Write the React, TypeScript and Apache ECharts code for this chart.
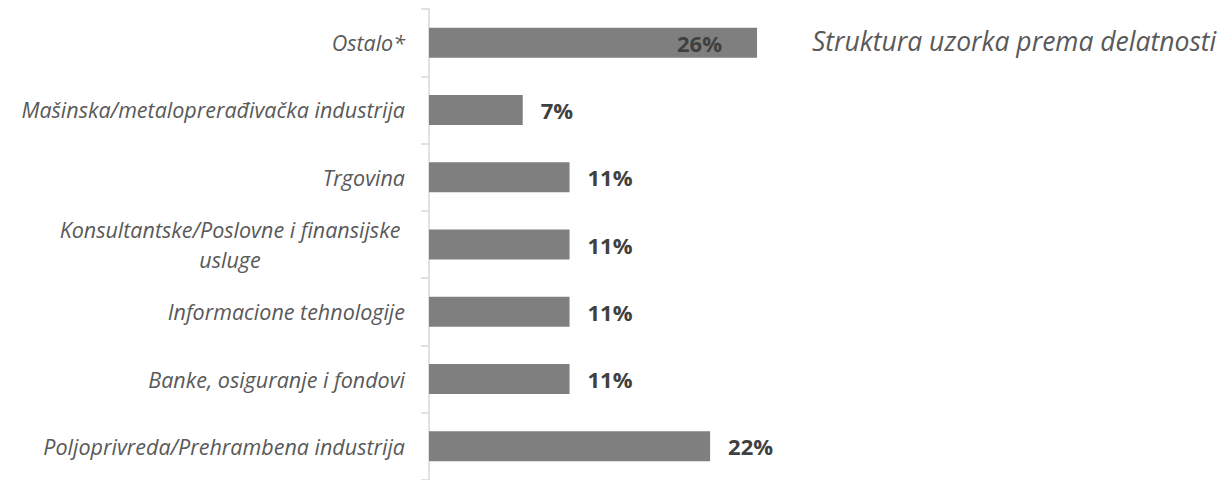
import React, { useEffect, useRef } from "react";
import * as echarts from "echarts";

const categories = [
  "Poljoprivreda/Prehrambena industrija",
  "Banke, osiguranje i fondovi",
  "Informacione tehnologije",
  "Konsultantske/Poslovne i finansijske usluge",
  "Trgovina",
  "Mašinska/metaloprerađivačka industrija",
  "Ostalo*",
];
const values = [22.22, 11.11, 11.11, 11.11, 11.11, 7.41, 25.93];
const insideLabelIndex = [6];
const titleText = "Struktura uzorka prema delatnosti";

export default function App() {
  const ref = useRef<HTMLDivElement>(null);
  useEffect(() => {
    if (!ref.current) return;
    const chart = echarts.init(ref.current, undefined, { renderer: "svg" });
    const font = "'Open Sans', sans-serif";
    chart.setOption({
      animation: false,
      title: {
        text: titleText,
        left: 807,
        top: 22,
        textStyle: {
          fontFamily: font,
          fontSize: 26.5,
          fontStyle: "italic",
          fontWeight: "normal",
          color: "#595959",
        },
      },
      grid: { left: 429, top: 9, width: 379.5, bottom: -7, containLabel: false },
      xAxis: {
        type: "value",
        min: 0,
        max: 30,
        show: false,
      },
      yAxis: {
        type: "category",
        data: categories,
        axisLine: { show: true, lineStyle: { color: "#d9d9d9", width: 1.5 } },
        axisTick: { show: true, length: 8, lineStyle: { color: "#d9d9d9", width: 1.5 } },
        splitLine: { show: false },
        axisLabel: {
          margin: 24,
          fontFamily: font,
          fontSize: 21.5,
          fontStyle: "italic",
          color: "#595959",
          align: "right",
          formatter: (v: string) => {
            if (v.startsWith("Konsultantske")) {
              return "{c|Konsultantske/Poslovne i finansijske}\n{c|usluge}";
            }
            return v;
          },
          rich: {
            c: {
              width: 350,
              align: "center",
              fontFamily: font,
              fontSize: 21.5,
              fontStyle: "italic",
              color: "#595959",
              lineHeight: 30,
            },
          },
        },
      },
      series: [
        {
          type: "bar",
          barWidth: 30,
          itemStyle: { color: "#7f7f7f" },
          data: values.map((v, i) => ({
            value: v,
            label: insideLabelIndex.includes(i)
              ? { position: "insideRight", distance: 35 }
              : { position: "right", distance: 18 },
          })),
          label: {
            show: true,
            fontFamily: font,
            fontSize: 22,
            fontWeight: "bold",
            color: "#404040",
            formatter: (p: any) => Math.round(p.value) + "%",
          },
        },
      ],
    });
    return () => chart.dispose();
  }, []);
  return (
    <div
      ref={ref}
      style={{ position: "absolute", left: 0, top: 0, width: 1222, height: 480 }}
    />
  );
}
